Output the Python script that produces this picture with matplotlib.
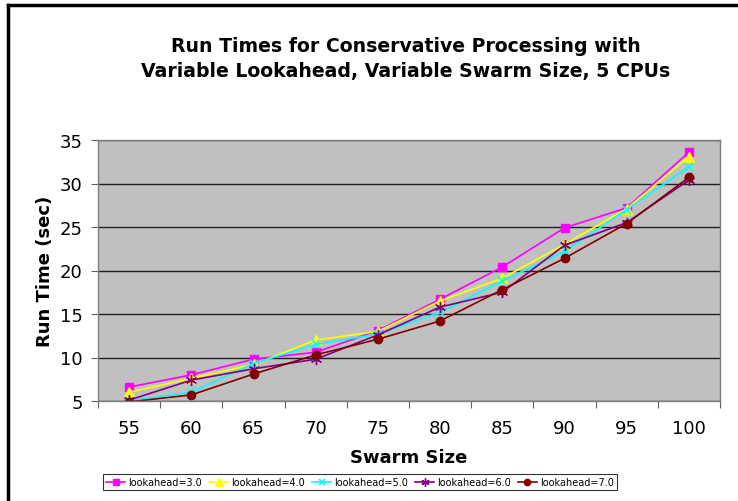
import matplotlib.pyplot as plt
from matplotlib.lines import Line2D
import numpy as np

# swarm sizes on the x axis
swarm = [55, 60, 65, 70, 75, 80, 85, 90, 95, 100]

# run times (sec) per lookahead value
la3 = [6.6, 8.0, 9.8, 10.6, 13.1, 16.7, 20.4, 24.9, 27.2, 33.6]
la4 = [6.0, 7.6, 9.2, 12.0, 13.0, 16.5, 19.1, 23.0, 27.1, 33.1]
la5 = [5.0, 6.0, 9.3, 11.5, 12.7, 15.2, 18.8, 22.2, 27.0, 31.9]
la6 = [5.1, 7.4, 8.7, 9.8, 12.6, 15.8, 17.5, 22.9, 25.5, 30.4]
la7 = [4.9, 5.7, 8.1, 10.3, 12.1, 14.2, 17.8, 21.4, 25.4, 30.7]

labels = ['lookahead=3.0', 'lookahead=4.0', 'lookahead=5.0',
          'lookahead=6.0', 'lookahead=7.0']

fig = plt.figure(figsize=(7.38, 5.02), dpi=100)
ax = fig.add_axes([98/738, 1-402/502, 622/738, 261/502])
ax.set_facecolor('#c0c0c0')

x = np.arange(len(swarm))
ax.plot(x, la3, color='#ff00ff', marker='s', ms=6, lw=1.2, label=labels[0])
ax.plot(x, la4, color='#ffff00', marker='^', ms=7, lw=1.2, label=labels[1])
ax.plot(x, la5, color='#00ffff', marker='x', ms=6, mew=1.2, lw=1.2, label=labels[2])
ax.plot(x, la6, color='#800080', marker=(6, 2, 0), ms=8, mew=1.0, lw=1.2, label=labels[3])
ax.plot(x, la7, color='#800000', marker='o', ms=6, lw=1.2, label=labels[4])

ax.set_ylim(5, 35)
ax.set_xlim(-0.5, len(swarm) - 0.5)
ax.set_yticks(range(5, 36, 5))
ax.yaxis.grid(True, color='#202020', lw=1)
ax.set_axisbelow(True)
ax.tick_params(axis='y', labelsize=13, length=5, color='#606060', pad=6)

# ticks between categories, labels in the middle
ax.set_xticks(np.arange(-0.5, len(swarm), 1))
ax.set_xticklabels([])
ax.set_xticks(x, minor=True)
ax.set_xticklabels([str(s) for s in swarm], minor=True)
ax.tick_params(axis='x', which='major', length=5, color='#606060')
ax.tick_params(axis='x', which='minor', length=0, labelsize=13, pad=13)

for s in ax.spines.values():
    s.set_color('#808080')
    s.set_linewidth(1)

ax.set_xlabel('Swarm Size', fontsize=13, fontweight='bold', labelpad=8)
ax.set_ylabel('Run Time (sec)', fontsize=13, fontweight='bold', labelpad=4)

fig.text(406/738, 1-46/502, 'Run Times for Conservative Processing with',
         ha='center', va='center', fontsize=13.6, fontweight='bold')
fig.text(406/738, 1-71/502, 'Variable Lookahead, Variable Swarm Size, 5 CPUs',
         ha='center', va='center', fontsize=13.6, fontweight='bold')

leg = fig.legend(loc='center', bbox_to_anchor=(360/738, 1-483/502), ncol=5,
                 fontsize=7, frameon=True, fancybox=False, edgecolor='black',
                 handlelength=2.0, columnspacing=0.7, handletextpad=0.3,
                 borderpad=0.3, markerscale=0.75)
leg.get_frame().set_linewidth(0.8)

# outer chart border (left and top)
fig.add_artist(Line2D([8/738, 8/738], [0, 1-6/502], color='black', lw=2.5,
                      transform=fig.transFigure))
fig.add_artist(Line2D([8/738, 1], [1-6/502, 1-6/502], color='black', lw=2.5,
                      transform=fig.transFigure))

fig.savefig('out.png', dpi=100)
